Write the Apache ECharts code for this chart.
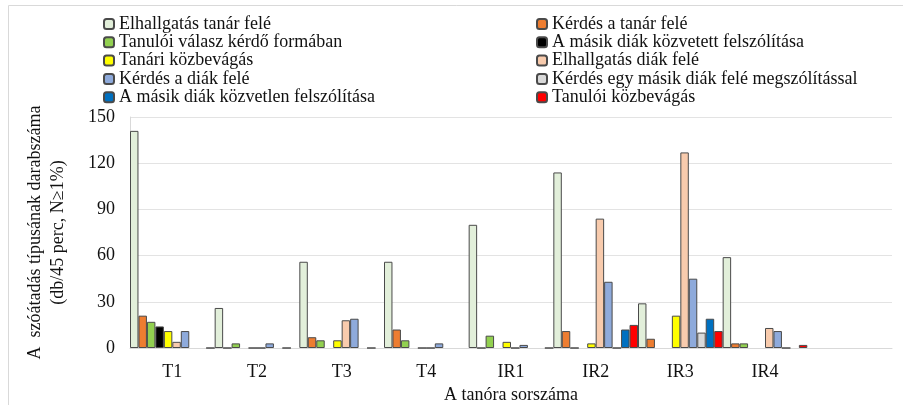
<!DOCTYPE html>
<html>
<head>
<meta charset="utf-8">
<script src="https://cdn.jsdelivr.net/npm/echarts@6/dist/echarts.min.js"></script>
<style>
  html, body { margin: 0; padding: 0; background: #fff; }
  #demo { width: 903px; height: 405px; }
</style>
</head>
<body>
<div id="demo"></div>
<script>
// kategóriák (az utolsó üres sáv az Excel-ábrán is ott van)
var categories = ['T1', 'T2', 'T3', 'T4', 'IR1', 'IR2', 'IR3', 'IR4', ''];
var yTicks = [0, 30, 60, 90, 120, 150];

// sorozatok értékei (null = üres cella, 0 = csak vonal látszik)
var elhallgatasTanar = [141, 26, 56, 56, 80, 114, 29, 59];
var kerdesTanar = [21, 0, 7, 12, 0, 11, 6, 3];
var tanuloiValasz = [17, 3, 5, 5, 8, 0, null, 3];
var kozvetettFelszolitas = [14, null, null, null, null, null, null, null];
var tanariKozbevagas = [11, 0, 5, 0, 4, 3, 21, null];
var elhallgatasDiak = [4, 0, 18, 0, 0, 84, 127, 13];
var kerdesDiak = [11, 3, 19, 3, 2, 43, 45, 11];
var kerdesMasikDiak = [null, null, null, null, null, 0, 10, 0];
var kozvetlenFelszolitas = [null, 0, 0, null, null, 12, 19, null];
var tanuloiKozbevagas = [0, null, null, null, 0, 15, 11, 2];

var seriesNames = [
    'Elhallgatás tanár felé',
    'Kérdés a tanár felé',
    'Tanulói válasz kérdő formában',
    'A másik diák közvetett felszólítása',
    'Tanári közbevágás',
    'Elhallgatás diák felé',
    'Kérdés a diák felé',
    'Kérdés egy másik diák felé megszólítással',
    'A másik diák közvetlen felszólítása',
    'Tanulói közbevágás'
];
var seriesData = [elhallgatasTanar, kerdesTanar, tanuloiValasz, kozvetettFelszolitas, tanariKozbevagas,
    elhallgatasDiak, kerdesDiak, kerdesMasikDiak, kozvetlenFelszolitas, tanuloiKozbevagas];
var colors = ['#e2efda', '#ed7d31', '#92d050', '#000000', '#ffff00',
    '#f8cbad', '#8eaadb', '#d9d9d9', '#0070c0', '#ff0000'];

var font = '"Liberation Serif", "DejaVu Serif", serif';

var series = [];
for (var i = 0; i < seriesNames.length; i++) {
    series.push({
        name: seriesNames[i],
        type: 'bar',
        barGap: '0%',
        barCategoryGap: '0%',
        data: seriesData[i].map(function (v) { return v === null ? '-' : v; }),
        itemStyle: { color: colors[i], borderColor: '#4a4a4a', borderWidth: 1 }
    });
}

var legendText = { fontFamily: font, fontSize: 18, color: '#111', lineHeight: 17.5 };

var chartDom = document.getElementById('demo');
var myChart = echarts.init(chartDom);
var option = {
    animation: false,
    textStyle: { fontFamily: font },
    legend: [
        {
            orient: 'vertical', left: 98, top: 10,
            itemWidth: 10, itemHeight: 10, itemGap: 0.3,
            textStyle: legendText,
            data: [seriesNames[0], seriesNames[2], seriesNames[4], seriesNames[6], seriesNames[8]]
        },
        {
            orient: 'vertical', left: 531, top: 10,
            itemWidth: 10, itemHeight: 10, itemGap: 0.3,
            textStyle: legendText,
            data: [seriesNames[1], seriesNames[3], seriesNames[5], seriesNames[7], seriesNames[9]]
        }
    ],
    graphic: [
        {
            type: 'rect', silent: true,
            shape: { x: 8.5, y: 5.5, width: 900, height: 405 },
            style: { fill: 'none', stroke: '#d9d9d9', lineWidth: 1 }
        }
    ],
    grid: { left: 130, right: 11, top: 117, bottom: 57, outerBoundsMode: 'none', containLabel: false },
    xAxis: {
        type: 'category',
        data: categories,
        name: 'A tanóra sorszáma',
        nameLocation: 'middle',
        nameGap: 38,
        nameTextStyle: { fontFamily: font, fontSize: 18, color: '#111' },
        axisTick: { show: false },
        axisLine: { lineStyle: { color: '#d9d9d9' } },
        axisLabel: { fontFamily: font, fontSize: 18, color: '#111', margin: 15 }
    },
    yAxis: {
        type: 'value',
        min: yTicks[0],
        max: yTicks[yTicks.length - 1],
        interval: 30,
        name: 'A  szóátadás típusának darabszáma\n(db/45 perc, N≥1%)',
        nameLocation: 'middle',
        nameRotate: 90,
        nameGap: 60,
        nameTextStyle: { fontFamily: font, fontSize: 18, color: '#111', lineHeight: 23 },
        axisLine: { show: true, lineStyle: { color: '#d9d9d9' } },
        axisTick: { show: false },
        axisLabel: { fontFamily: font, fontSize: 18, color: '#111', margin: 15 },
        splitLine: { lineStyle: { color: '#e3e3e3' } }
    },
    series: series
};
option && myChart.setOption(option);
</script>
</body>
</html>
